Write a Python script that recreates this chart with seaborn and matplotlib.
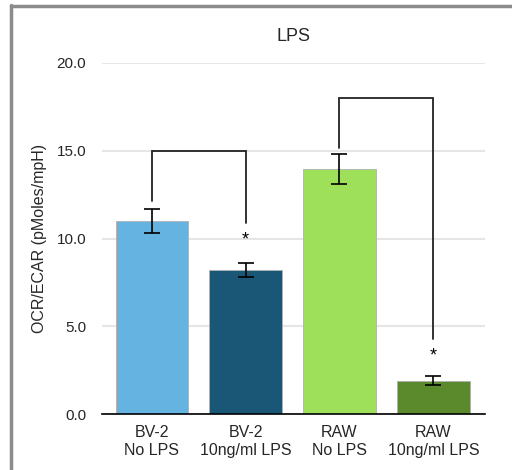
import matplotlib
matplotlib.use("Agg")
import matplotlib.pyplot as plt
import seaborn as sns
import pandas as pd
from matplotlib.lines import Line2D

categories = ["BV-2\nNo LPS", "BV-2\n10ng/ml LPS", "RAW\nNo LPS", "RAW\n10ng/ml LPS"]
values = [11.0, 8.2, 13.95, 1.9]
errors = [0.7, 0.4, 0.86, 0.25]
colors = ["#64B3E1", "#1A5676", "#9FE05B", "#5A8A2B"]
yticks = [0.0, 5.0, 10.0, 15.0, 20.0]

# significance brackets: (left index, right index, top y, left leg bottom, right leg bottom, star y)
brackets = [(0, 1, 15.0, 12.15, 10.9, 9.9),
            (2, 3, 18.0, 15.15, 4.27, 3.3)]

sns.set_theme(style="white")
plt.rcParams['font.family'] = ['Liberation Sans', 'DejaVu Sans']

fig = plt.figure(figsize=(5.12, 4.70), dpi=100)
ax = fig.add_axes([102/512, 1-414/470, 383/512, 351/470])

df = pd.DataFrame({"cat": categories, "val": values})
sns.barplot(data=df, x="cat", y="val", hue="cat", palette=colors, legend=False,
            saturation=1, width=0.77, edgecolor="#b0b0b0", linewidth=0.6, ax=ax, zorder=2)
ax.errorbar(range(len(values)), values, yerr=errors, fmt="none", ecolor="black",
            elinewidth=1.2, capsize=5.5, capthick=1.2, zorder=3)

for l, r, top, lb, rb, sy in brackets:
    ax.plot([l, l, r, r], [lb, top, top, rb], color="#222222", lw=1.3, zorder=3,
            solid_joinstyle="miter")
    ax.text(r, sy, "*", ha="center", va="center", fontsize=13, color="black")

ax.set_xlim(-0.53, 3.55)
ax.set_ylim(0, 20)
ax.set_yticks(yticks)
ax.set_yticklabels([f"{t:.1f}" for t in yticks], fontsize=11)
ax.yaxis.grid(True, color="#e6e6e6", lw=1.5, zorder=0)
ax.set_axisbelow(True)
ax.tick_params(axis="y", length=0, pad=11.5)
ax.tick_params(axis="x", length=0, pad=8, labelsize=11.5)
for s in ["left", "right", "top"]:
    ax.spines[s].set_visible(False)
ax.spines["bottom"].set_color("black")
ax.spines["bottom"].set_linewidth(1.2)
ax.set_xlabel("")
ax.set_ylabel("OCR/ECAR (pMoles/mpH)", fontsize=11.5, labelpad=7)
ax.set_title("LPS", fontsize=13, pad=16)

# frame border around screenshot
fig.add_artist(Line2D([10.5/512, 10.5/512], [0, 1-5/470], transform=fig.transFigure,
                      color="#8c8c8c", lw=2.5))
fig.add_artist(Line2D([10.5/512, 1], [1-5.5/470, 1-5.5/470], transform=fig.transFigure,
                      color="#8c8c8c", lw=2.5))

fig.savefig("out.png", dpi=100)
